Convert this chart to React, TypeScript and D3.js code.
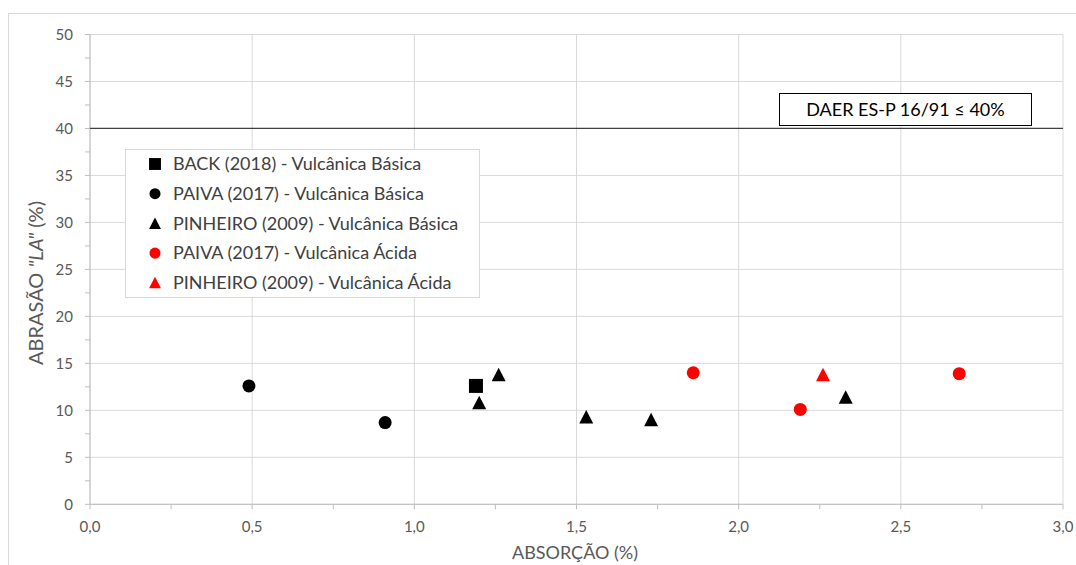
import React from "react";
import * as d3 from "d3";

const W = 1076;
const H = 565;

const xTicks = [0, 0.5, 1.0, 1.5, 2.0, 2.5, 3.0];
const yTicks = [0, 5, 10, 15, 20, 25, 30, 35, 40, 45, 50];

const backBasica = [{ x: 1.19, y: 12.6 }];
const paivaBasica = [
  { x: 0.49, y: 12.6 },
  { x: 0.91, y: 8.7 },
];
const pinheiroBasica = [
  { x: 1.2, y: 10.8 },
  { x: 1.26, y: 13.8 },
  { x: 1.53, y: 9.3 },
  { x: 1.73, y: 9.0 },
  { x: 2.33, y: 11.4 },
];
const paivaAcida = [
  { x: 1.86, y: 14.0 },
  { x: 2.19, y: 10.1 },
  { x: 2.68, y: 13.9 },
];
const pinheiroAcida = [{ x: 2.26, y: 13.8 }];

const limitValue = 40;
const limitLabel = "DAER ES-P 16/91 ≤ 40%";

const seriesList = [
  { name: "BACK (2018) - Vulcânica Básica", shape: "square", color: "#000000", data: backBasica },
  { name: "PAIVA (2017) - Vulcânica Básica", shape: "circle", color: "#000000", data: paivaBasica },
  { name: "PINHEIRO (2009) - Vulcânica Básica", shape: "triangle", color: "#000000", data: pinheiroBasica },
  { name: "PAIVA (2017) - Vulcânica Ácida", shape: "circle", color: "#ff0000", data: paivaAcida },
  { name: "PINHEIRO (2009) - Vulcânica Ácida", shape: "triangle", color: "#ff0000", data: pinheiroAcida },
];

const FONT = "Lato, 'Open Sans', sans-serif";

function Marker({ shape, color, cx, cy, scale = 1 }: { shape: string; color: string; cx: number; cy: number; scale?: number }) {
  if (shape === "square") {
    const s = 14 * scale;
    return <rect x={cx - s / 2} y={cy - s / 2} width={s} height={s} fill={color} />;
  }
  if (shape === "circle") {
    return <circle cx={cx} cy={cy} r={6.5 * scale} fill={color} />;
  }
  const w = 14 * scale;
  const h = 13 * scale;
  return (
    <path
      d={`M${cx},${cy - h / 2 - 0.5}L${cx + w / 2},${cy + h / 2}L${cx - w / 2},${cy + h / 2}Z`}
      fill={color}
    />
  );
}

export default function App() {
  const x = d3.scaleLinear().domain([0, 3]).range([90, 1063]);
  const y = d3.scaleLinear().domain([0, 50]).range([504.3, 34.5]);
  const xMinor = d3.range(0, 3.0001, 0.25);
  const yMinor = d3.range(0, 50.0001, 2.5);
  const fmtX = (v: number) => v.toFixed(1).replace(".", ",");

  return (
    <svg
      width={W}
      height={H}
      style={{ position: "absolute", left: 0, top: 0, background: "#fff" }}
      fontFamily={FONT}
    >
      <rect x={0} y={0} width={W} height={H} fill="#fff" />
      {/* outer chart border */}
      <rect x={8.5} y={13.5} width={W + 20} height={H + 20} fill="none" stroke="#d9d9d9" strokeWidth={1} />

      {/* gridlines */}
      {yTicks.map((t) => (
        <line key={"gy" + t} x1={x(0)} x2={x(3)} y1={y(t)} y2={y(t)} stroke="#d9d9d9" strokeWidth={1} />
      ))}
      {xTicks.map((t) => (
        <line key={"gx" + t} x1={x(t)} x2={x(t)} y1={y(0)} y2={y(50)} stroke="#d9d9d9" strokeWidth={1} />
      ))}

      {/* axes */}
      <line x1={x(0)} x2={x(3)} y1={y(0)} y2={y(0)} stroke="#bfbfbf" />
      <line x1={x(0)} x2={x(0)} y1={y(0)} y2={y(50)} stroke="#bfbfbf" />
      {xMinor.map((t) => (
        <line key={"mx" + t} x1={x(t)} x2={x(t)} y1={y(0)} y2={y(0) + 5} stroke="#bfbfbf" />
      ))}
      {yMinor.map((t) => (
        <line key={"my" + t} x1={x(0) - 5} x2={x(0)} y1={y(t)} y2={y(t)} stroke="#bfbfbf" />
      ))}

      {/* tick labels */}
      {yTicks.map((t) => (
        <text key={"ty" + t} x={x(0) - 17} y={y(t)} dy="0.35em" textAnchor="end" fontSize={15} fill="#595959">
          {t}
        </text>
      ))}
      {xTicks.map((t) => (
        <text key={"tx" + t} x={x(t)} y={y(0) + 28} textAnchor="middle" fontSize={15} fill="#595959">
          {fmtX(t)}
        </text>
      ))}

      {/* axis titles */}
      <text x={575} y={559} textAnchor="middle" fontSize={18} fill="#595959">
        ABSORÇÃO (%)
      </text>
      <text
        transform={`translate(43, 283) rotate(-90)`}
        textAnchor="middle"
        fontSize={20}
        fill="#595959"
      >
        ABRASÃO <tspan fontStyle="italic">"LA"</tspan> (%)
      </text>

      {/* limit line */}
      <line x1={x(0)} x2={x(3)} y1={y(limitValue)} y2={y(limitValue)} stroke="#404040" strokeWidth={1.3} />
      <rect x={779.5} y={93.5} width={252} height={32} fill="#fff" stroke="#000" strokeWidth={1} />
      <text x={905.5} y={110} dy="0.35em" textAnchor="middle" fontSize={18} fill="#000">
        {limitLabel}
      </text>

      {/* data points */}
      {seriesList.map((s) =>
        s.data.map((d, i) => (
          <Marker key={s.name + i} shape={s.shape} color={s.color} cx={x(d.x)} cy={y(d.y)} />
        ))
      )}

      {/* legend */}
      <rect x={125.5} y={149.5} width={354} height={148} fill="#fff" stroke="#d9d9d9" />
      {seriesList.map((s, i) => {
        const cy = 164 + i * 29.7;
        return (
          <g key={"lg" + s.name}>
            <Marker shape={s.shape} color={s.color} cx={155} cy={cy} scale={0.85} />
            <text x={173} y={cy} dy="0.35em" fontSize={18} fill="#404040">
              {s.name}
            </text>
          </g>
        );
      })}
    </svg>
  );
}
